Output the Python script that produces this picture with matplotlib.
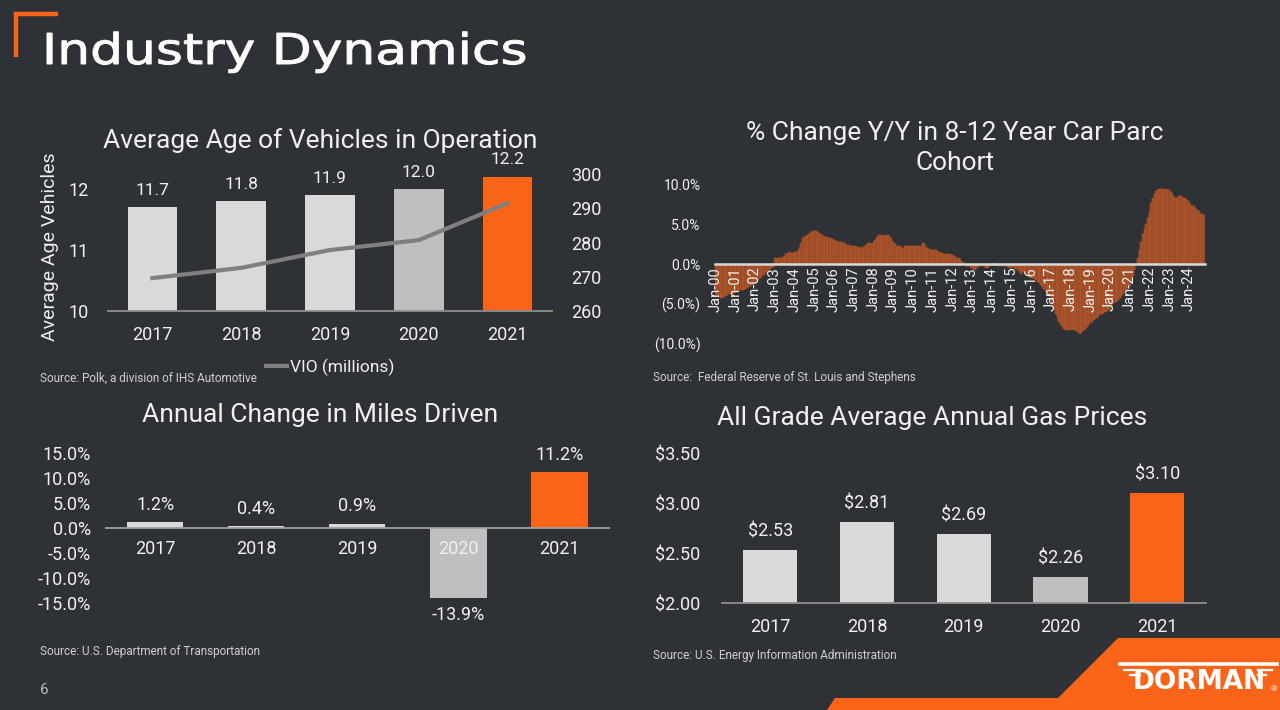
import matplotlib.pyplot as plt
from matplotlib.patches import Polygon, PathPatch
from matplotlib.lines import Line2D
from matplotlib.textpath import TextPath
from matplotlib.font_manager import FontProperties
from matplotlib.transforms import Affine2D, IdentityTransform

plt.rcParams['font.family'] = ['Roboto', 'DejaVu Sans']

W, H = 1280, 710
BG = '#2e3136'
ORANGE = '#fa6418'
LIGHT = '#d9d9d9'
MID = '#bfbfbf'
TXT = '#f0f0f0'
SRC = '#d0d0d0'

# --- data ---
years = ['2017', '2018', '2019', '2020', '2021']
avg_age = [11.7, 11.8, 11.9, 12.0, 12.2]
vio_millions = [269.6, 272.6, 277.8, 280.7, 291.5]
miles_change = [1.2, 0.4, 0.9, -13.9, 11.2]
gas_price = [2.53, 2.81, 2.69, 2.26, 3.10]
bar_colors = [LIGHT, LIGHT, LIGHT, MID, ORANGE]

# monthly % change y/y in the 8-12 year car parc cohort, Jan-00 .. Oct-24
parc_00 = [-3.8, -4.0, -4.1, -4.2, -4.2, -4.1, -4.0, -3.9, -3.8, -3.8, -3.7, -3.6]
parc_01 = [-3.5, -3.5, -3.4, -3.3, -3.3, -3.2, -3.1, -3.0, -2.9, -2.8, -2.6, -2.5]
parc_02 = [-2.4, -2.2, -2.0, -1.8, -1.6, -1.4, -1.2, -1.0, -0.8, -0.6, -0.5, -0.4]
parc_03 = [0.7, 0.6, 0.7, 0.8, 0.8, 0.9, 1.0, 1.2, 1.4, 1.5, 1.4, 1.4]
parc_04 = [1.5, 1.5, 1.6, 2.0, 2.6, 3.2, 3.4, 3.5, 3.6, 3.8, 4.0, 4.1]
parc_05 = [4.1, 4.1, 4.0, 3.9, 3.7, 3.5, 3.5, 3.4, 3.4, 3.3, 3.2, 3.1]
parc_06 = [3.0, 2.9, 2.9, 2.8, 2.7, 2.8, 2.6, 2.5, 2.4, 2.4, 2.3, 2.3]
parc_07 = [2.2, 2.2, 2.1, 2.1, 2.0, 2.1, 2.0, 2.3, 2.5, 2.6, 2.6, 2.5]
parc_08 = [2.7, 3.0, 3.4, 3.6, 3.6, 3.5, 3.6, 3.5, 3.6, 3.6, 3.4, 3.1]
parc_09 = [2.8, 2.5, 2.3, 2.3, 2.2, 2.1, 1.9, 2.2, 2.3, 2.3, 2.2, 2.2]
parc_10 = [2.3, 2.2, 2.3, 2.2, 2.3, 2.3, 2.6, 2.5, 2.1, 1.9, 1.9, 1.8]
parc_11 = [1.8, 1.8, 1.7, 1.6, 1.5, 1.4, 1.4, 1.3, 1.3, 1.3, 1.2, 1.2]
parc_12 = [1.1, 1.0, 0.9, 0.8, 0.7, 0.5, 0.3, 0.1, -0.1, -0.2, -0.3, -0.4]
parc_13 = [-0.5, -0.6, -0.7, -0.5, -0.3, -0.2, -0.1, -0.2, -0.4, -0.5, -0.4, -0.2]
parc_14 = [-0.1, 0.0, 0.1, -0.1, -0.2, -0.1, -0.2, -0.3, -0.2, -0.3, -0.4, -0.5]
parc_15 = [-0.5, -0.4, -0.6, -0.5, -0.7, -0.9, -1.2, -1.0, -1.1, -1.3, -1.5, -1.6]
parc_16 = [-1.7, -1.8, -1.9, -2.0, -2.2, -2.4, -2.6, -2.9, -3.1, -3.4, -3.7, -4.0]
parc_17 = [-4.5, -5.0, -5.6, -6.2, -6.8, -7.2, -7.6, -7.9, -8.1, -8.2, -8.2, -8.2]
parc_18 = [-8.2, -8.1, -8.2, -8.3, -8.4, -8.6, -8.8, -8.5, -8.3, -8.1, -7.9, -7.6]
parc_19 = [-7.4, -7.2, -7.0, -6.9, -6.7, -6.5, -6.3, -6.2, -6.1, -6.0, -5.9, -5.8]
parc_20 = [-5.6, -5.3, -5.0, -4.8, -4.7, -4.5, -4.3, -4.0, -3.7, -3.4, -3.2, -3.0]
parc_21 = [-2.8, -2.2, -1.5, -0.8, 0.0, 0.8, 1.8, 2.8, 3.7, 4.4, 5.0, 5.7]
parc_22 = [6.5, 7.6, 8.3, 8.8, 9.1, 9.3, 9.4, 9.4, 9.4, 9.4, 9.4, 9.3]
parc_23 = [9.3, 9.0, 8.7, 8.4, 8.3, 8.3, 8.5, 8.5, 8.4, 8.3, 8.2, 8.0]
parc_24 = [7.7, 7.4, 7.3, 7.2, 7.0, 6.8, 6.6, 6.3, 6.2, 6.1]
parc_change = (parc_00 + parc_01 + parc_02 + parc_03 + parc_04 + parc_05 + parc_06
               + parc_07 + parc_08 + parc_09 + parc_10 + parc_11 + parc_12 + parc_13
               + parc_14 + parc_15 + parc_16 + parc_17 + parc_18 + parc_19 + parc_20
               + parc_21 + parc_22 + parc_23 + parc_24)
jan_labels = ['Jan-00', 'Jan-01', 'Jan-02', 'Jan-03', 'Jan-04', 'Jan-05', 'Jan-06',
              'Jan-07', 'Jan-08', 'Jan-09', 'Jan-10', 'Jan-11', 'Jan-12', 'Jan-13',
              'Jan-14', 'Jan-15', 'Jan-16', 'Jan-17', 'Jan-18', 'Jan-19', 'Jan-20',
              'Jan-21', 'Jan-22', 'Jan-23', 'Jan-24']

fig = plt.figure(figsize=(12.8, 7.1), dpi=100, facecolor=BG)


def px_axes(x0, y0, x1, y1):
    ax = fig.add_axes([x0 / W, 1 - y1 / H, (x1 - x0) / W, (y1 - y0) / H])
    ax.set_facecolor('none')
    for s in ax.spines.values():
        s.set_visible(False)
    return ax


def ftext(x, y, s, **kw):
    kw.setdefault('color', TXT)
    kw.setdefault('ha', 'center')
    kw.setdefault('va', 'center')
    return fig.text(x / W, 1 - y / H, s, **kw)


def bar_style(ax):
    ax.spines['bottom'].set_visible(True)
    ax.spines['bottom'].set_color('#8f8f8f')
    ax.spines['bottom'].set_linewidth(1.3)
    ax.tick_params(length=0, colors=TXT, labelsize=13)


# --- header: wide geometric title, stretched a bit horizontally ---
title_path = TextPath((0, 0), 'Industry Dynamics', size=1,
                      prop=FontProperties(family='DejaVu Sans'))
ext = title_path.get_extents()
sy = 31 / 0.73            # cap height ~31 px
sx = 478 / ext.width      # spans ~480 px
fig.add_artist(PathPatch(title_path, facecolor='white', edgecolor='white', linewidth=0.7,
                         transform=Affine2D().translate(-ext.x0, 0).scale(sx, sy)
                         .translate(47, H - 64) + IdentityTransform()))
fig.add_artist(Line2D([16 / W, 16 / W, 58 / W], [1 - 57 / H, 1 - 14 / H, 1 - 14 / H],
                      color=ORANGE, lw=3.2, solid_capstyle='butt', solid_joinstyle='miter'))

# --- top left: average age ---
ax1 = px_axes(108, 174, 552, 311)
x = range(len(years))
ax1.bar(x, avg_age, width=0.56, color=bar_colors)
ax1.set_xlim(-0.5, 4.5)
ax1.set_ylim(10, 12.25)
ax1.set_yticks([10, 11, 12])
ax1.set_xticks(list(x))
ax1.set_xticklabels(years)
bar_style(ax1)
ax1.tick_params(axis='y', pad=14)
ax1.tick_params(axis='x', pad=11)
for i, v in enumerate(avg_age):
    ax1.annotate(f'{v:.1f}', (i, v), xytext=(0, 7), textcoords='offset points',
                 ha='center', va='bottom', color=TXT, size=12.5)
ax1r = ax1.twinx()
ax1r.set_facecolor('none')
for s in ax1r.spines.values():
    s.set_visible(False)
line, = ax1r.plot(list(x), vio_millions, color='#7f7f7f', lw=3, label='VIO (millions)')
ax1r.set_ylim(260, 300)
ax1r.set_yticks([260, 270, 280, 290, 300])
ax1r.tick_params(length=0, colors=TXT, labelsize=13, pad=14)
ax1r.legend(handles=[line], loc='center', bbox_to_anchor=(0.5, -0.41), frameon=False,
            handlelength=1.2, handletextpad=0.15, fontsize=12.5, labelcolor=TXT)
ftext(50, 247, 'Average Age Vehicles', rotation=90, size=14)
ftext(320, 141, 'Average Age of Vehicles in Operation', size=19)
ftext(40, 378, 'Source: Polk, a division of IHS Automotive', ha='left', size=8.5, color=SRC)

# --- top right: 8-12 year car parc cohort ---
ax2 = px_axes(714.5, 184, 1205, 344)
months = range(len(parc_change))
ax2.bar(months, parc_change, width=1.0, color='#87492f', edgecolor='#cf5d20', linewidth=0.35)
ax2.set_xlim(-0.7, len(parc_change) - 0.2)
ax2.set_ylim(-10, 10)
ax2.set_yticks([10, 5, 0, -5, -10])
ax2.set_yticklabels(['10.0%', '5.0%', '0.0%', '(5.0%)', '(10.0%)'])
ax2.spines['bottom'].set_visible(True)
ax2.spines['bottom'].set_position(('data', 0))
ax2.spines['bottom'].set_color('#d9d9d9')
ax2.spines['bottom'].set_linewidth(1.8)
ax2.set_xticks(list(range(0, len(parc_change), 12)))
ax2.set_xticklabels(jan_labels, rotation=90)
ax2.tick_params(length=0, colors=TXT)
ax2.tick_params(axis='x', labelsize=10.5, pad=2)
ax2.tick_params(axis='y', labelsize=10, pad=10)
ftext(955, 133, '% Change Y/Y in 8-12 Year Car Parc', size=19)
ftext(955, 163, 'Cohort', size=19)
ftext(653, 378, 'Source:  Federal Reserve of St. Louis and Stephens', ha='left', size=8.5, color=SRC)

# --- bottom left: miles driven ---
ax3 = px_axes(104.6, 453, 609.8, 603)
ax3.bar(x, miles_change, width=0.56, color=bar_colors)
ax3.axhline(0, color='#a0a0a0', lw=1.3)
ax3.set_xlim(-0.5, 4.5)
ax3.set_ylim(-15, 15)
ax3.set_yticks([15, 10, 5, 0, -5, -10, -15])
ax3.set_yticklabels([f'{v:.1f}%' for v in [15, 10, 5, 0, -5, -10, -15]])
ax3.set_xticks([])
ax3.tick_params(length=0, colors=TXT, labelsize=13, pad=10)
for i, v in enumerate(miles_change):
    ax3.text(i, -4.2, years[i], ha='center', va='center', color=TXT, size=13)
    if v >= 0:
        ax3.annotate(f'{v:.1f}%', (i, v), xytext=(0, 6), textcoords='offset points',
                     ha='center', va='bottom', color=TXT, size=13)
    else:
        ax3.annotate(f'{v:.1f}%', (i, v), xytext=(0, -6), textcoords='offset points',
                     ha='center', va='top', color=TXT, size=13)
ftext(320, 415, 'Annual Change in Miles Driven', size=19)
ftext(40, 652, 'Source: U.S. Department of Transportation', ha='left', size=8.5, color=SRC)

# --- bottom right: gas prices ---
ax4 = px_axes(722, 453, 1205.6, 603)
ax4.bar(x, gas_price, width=0.56, color=bar_colors)
ax4.set_xlim(-0.5, 4.5)
ax4.set_ylim(2.0, 3.5)
ax4.set_yticks([2.0, 2.5, 3.0, 3.5])
ax4.set_yticklabels([f'${v:.2f}' for v in [2.0, 2.5, 3.0, 3.5]])
ax4.set_xticks(list(x))
ax4.set_xticklabels(years)
bar_style(ax4)
ax4.tick_params(axis='y', pad=16)
ax4.tick_params(axis='x', pad=11)
for i, v in enumerate(gas_price):
    ax4.annotate(f'${v:.2f}', (i, v), xytext=(0, 7), textcoords='offset points',
                 ha='center', va='bottom', color=TXT, size=13)
ftext(932, 418, 'All Grade Average Annual Gas Prices', size=19)
ftext(653, 656, 'Source: U.S. Energy Information Administration', ha='left', size=8.5, color=SRC)

# --- footer ---
ftext(40, 690, '6', ha='left', size=11, color='#bfbfbf')
logo_pts = [(827, 710), (835, 698), (1058, 698), (1118, 638), (1280, 638), (1280, 710)]
fig.add_artist(Polygon([(px / W, 1 - py / H) for px, py in logo_pts], closed=True,
                       facecolor=ORANGE, edgecolor='none', transform=fig.transFigure))
fig.add_artist(Line2D([1120 / W, 1277 / W], [1 - 664 / H, 1 - 664 / H], color='white', lw=2.6))
for x0, x1, yy in [(1124, 1140, 670), (1130, 1140, 675), (1258, 1272, 670), (1258, 1266, 675)]:
    fig.add_artist(Line2D([x0 / W, x1 / W], [1 - yy / H, 1 - yy / H], color='white', lw=1.6))
ftext(1199, 682, 'DORMAN', size=19, weight='heavy', color='white', family=['DejaVu Sans'])
ftext(1274, 689, '®', size=6, color='white')

fig.savefig('out.png', dpi=100, facecolor=BG)
